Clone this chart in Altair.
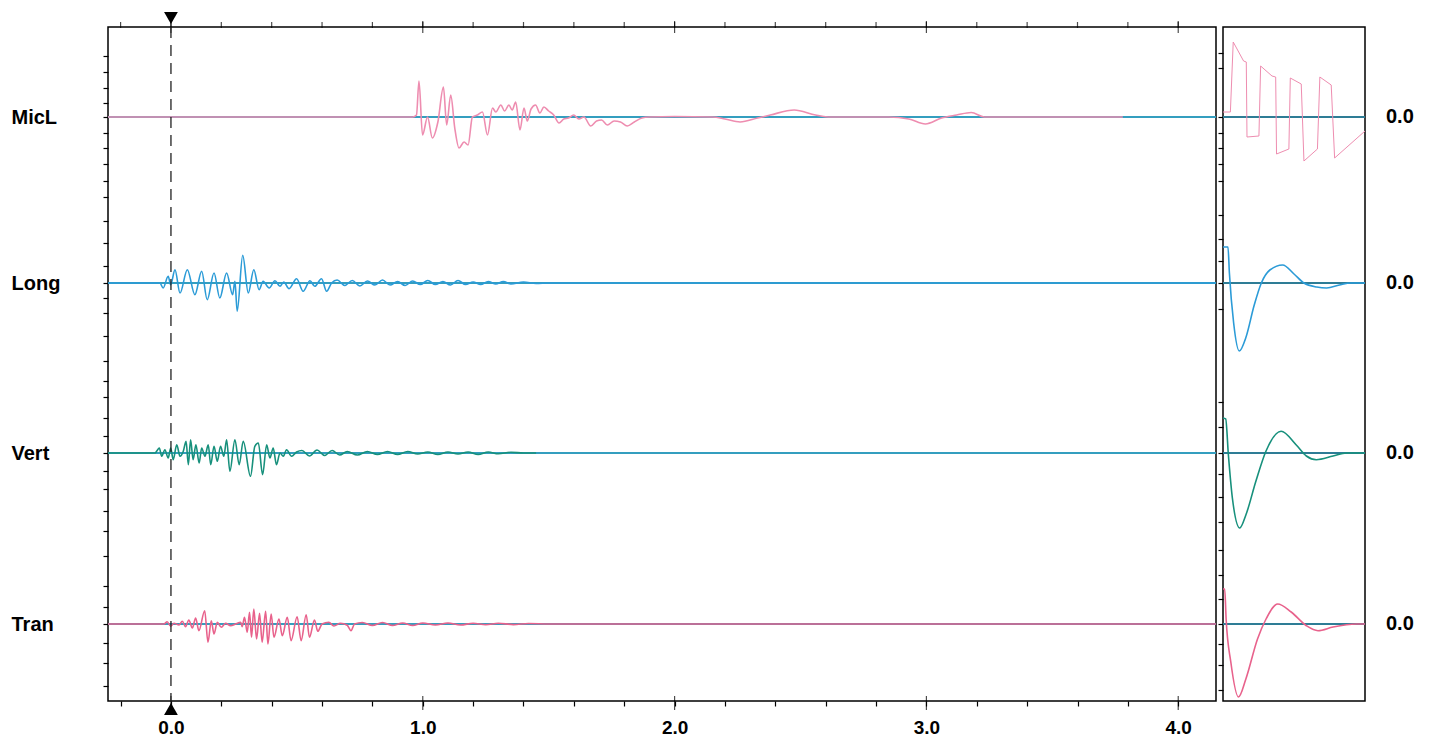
import altair as alt
import pandas as pd

# ---------------- data read from the record ----------------
channels = ["MicL", "Long", "Vert", "Tran"]
baselines = [584, 418, 248, 77]          # zero level of every trace (y units)
colors = ["#ee8db0", "#2b9bd7", "#17907c", "#e8628c"]

# main record: (time s, amplitude)
micl = [(-0.25, 0), (0.30, 0), (0.96, 0), (0.975, 2), (0.985, 36), (0.999, -18), (1.019, 0),
        (1.038, -21), (1.06, -5), (1.082, 30), (1.095, -8), (1.111, 22), (1.127, -11),
        (1.144, -31), (1.164, -25), (1.180, -28), (1.197, 0), (1.217, 2), (1.237, 5),
        (1.257, -18), (1.277, 9), (1.29, 5), (1.310, 12), (1.325, 6), (1.342, 12), (1.355, 7),
        (1.369, 15), (1.386, -13), (1.402, 9), (1.415, -4), (1.43, 8), (1.448, 12), (1.465, 4),
        (1.481, 10), (1.50, 6), (1.52, 2), (1.541, -6), (1.56, -2), (1.579, -1), (1.599, 2),
        (1.62, -2), (1.64, 0), (1.667, -9), (1.69, -4), (1.71, -3), (1.733, -8), (1.76, -4),
        (1.785, -5), (1.812, -9), (1.84, -5), (1.87, -1), (1.90, 0), (2.00, 0.5), (2.15, 0),
        (2.20, -2), (2.26, -5), (2.33, -1), (2.38, 2), (2.475, 7), (2.56, 2), (2.62, 0),
        (2.85, 0), (2.93, -2), (2.996, -7), (3.06, -1), (3.12, 2), (3.178, 4.5), (3.23, 0),
        (3.78, 0)]

long_ = [(-0.25, 0), (-0.044, 0), (-0.031, -5), (-0.011, 6.7), (-0.001, -1.7), (0.016, 13.3),
         (0.036, -10), (0.065, 13.3), (0.095, -11.7), (0.122, 11.7), (0.144, -16.7), (0.171, 10),
         (0.194, -15), (0.221, 10), (0.245, -11.7), (0.254, 1.7), (0.263, -28.3), (0.285, 27.7),
         (0.307, -10), (0.329, 13.3), (0.350, -6.7), (0.366, 1.7), (0.390, -5), (0.413, 2.3),
         (0.433, -3.3), (0.448, 1), (0.469, -5.7), (0.499, 4.3), (0.525, -8.3), (0.552, 2.3),
         (0.571, -3.3), (0.598, 4.3), (0.618, -8.3), (0.638, 0), (0.66, 3), (0.69, -2.5),
         (0.72, 2.5), (0.75, -3), (0.78, 2), (0.81, -2), (0.84, 3), (0.87, -2), (0.90, 1.5),
         (0.93, -2.5), (0.96, 2), (0.99, -1.5), (1.02, 2.5), (1.05, -1.5), (1.08, 1.5),
         (1.11, -2), (1.14, 2.5), (1.17, -1.5), (1.20, 1), (1.23, -1.5), (1.26, 1.5), (1.29, -1),
         (1.32, 1.5), (1.35, -1), (1.40, 1), (1.45, -0.5), (1.50, 0), (4.15, 0)]

vert = [(-0.25, 0), (-0.063, 0), (-0.057, 1.7), (-0.046, 5), (-0.037, -3.3), (-0.024, 3.3),
        (-0.011, -5), (-0.001, 5), (0.009, -6.7), (0.023, 8.3), (0.036, -3.3), (0.049, 1.7),
        (0.060, 11.7), (0.069, -11.7), (0.078, 13.3), (0.088, -6.7), (0.099, 8.3), (0.112, -10),
        (0.122, 5), (0.135, -3.3), (0.148, 8.3), (0.158, -11.7), (0.171, 6.7), (0.184, -8.3),
        (0.197, 6.7), (0.210, -3.3), (0.221, 13.3), (0.234, -18.3), (0.254, 13.3),
        (0.271, -11.7), (0.287, 11.7), (0.316, -23.3), (0.333, 6.7), (0.347, 10),
        (0.364, -21.7), (0.380, 8.3), (0.393, -5), (0.406, 5), (0.419, -11.7), (0.433, 0),
        (0.446, -3.3), (0.459, 3.3), (0.479, -3.3), (0.499, 1), (0.52, 2.5), (0.55, -3),
        (0.58, 3), (0.61, -2.5), (0.64, 2.5), (0.67, -2), (0.70, 1.5), (0.74, -2), (0.78, 1.5),
        (0.82, -1.5), (0.86, 1.5), (0.90, -1.5), (0.94, 1.5), (0.98, -1), (1.02, 1),
        (1.06, -1.5), (1.10, 1), (1.14, -1), (1.18, 1), (1.22, -1.5), (1.26, 1), (1.30, -0.8),
        (1.35, 0.8), (1.40, 0), (1.45, 0)]

tran = [(-0.25, 0), (-0.048, 0), (-0.028, 0), (-0.015, 2.3), (-0.001, -2.3), (0.012, 0.7),
        (0.032, -1), (0.045, 2.7), (0.058, -2.7), (0.071, 4), (0.085, -4), (0.098, 6),
        (0.111, -6.7), (0.134, 13.3), (0.147, -18.3), (0.160, 3.3), (0.171, -10), (0.184, 1.7),
        (0.200, -3.3), (0.217, 0.7), (0.237, -1.7), (0.257, 0), (0.277, 1.7), (0.283, -2.7),
        (0.292, 6.7), (0.303, -8.3), (0.312, 11.7), (0.320, -13.3), (0.329, 15), (0.340, -15),
        (0.352, 10.7), (0.362, -18.3), (0.376, 12.7), (0.385, -20), (0.398, 10), (0.409, -13.3),
        (0.429, 5), (0.442, -11.7), (0.462, 6.7), (0.477, -16.7), (0.501, 7.3), (0.517, -16.7),
        (0.537, 9.3), (0.550, -13.3), (0.570, 4), (0.583, -7.3), (0.600, 0), (0.627, 1.7),
        (0.647, -2), (0.673, 0.7), (0.700, -1.3), (0.715, -6.7), (0.729, 0), (0.76, 1.5),
        (0.80, -1.5), (0.84, 1.5), (0.88, -1.5), (0.92, 1), (0.96, -1.5), (1.00, 1),
        (1.05, -1), (1.10, 1), (1.15, -1), (1.20, 0.8), (1.25, -0.8), (1.30, 0.8),
        (1.36, -0.6), (1.42, 0.5), (1.50, 0), (4.15, 0)]

# calibration panel: (relative position 0..1, amplitude)
cal_micl = [(0.0, 5), (0.052, 5), (0.072, 75), (0.145, 56), (0.164, 55), (0.169, -20),
            (0.253, -19), (0.265, 51), (0.345, 41), (0.371, 40), (0.377, -37), (0.464, -32),
            (0.474, 39), (0.551, 33), (0.570, -44), (0.665, -32), (0.682, 40), (0.762, 32),
            (0.786, -41), (1.0, -14)]
cal_long = [(0.0, 36), (0.035, 36), (0.045, 10), (0.075, -40), (0.115, -68), (0.16, -55),
            (0.22, -22), (0.27, 0), (0.33, 13), (0.42, 18), (0.50, 9), (0.57, 0), (0.66, -4),
            (0.73, -5), (0.82, -2), (0.90, 0), (1.0, 0)]
cal_vert = [(0.0, 35), (0.019, 34), (0.038, -2), (0.066, -45), (0.118, -75), (0.161, -62),
            (0.232, -28), (0.303, 2), (0.409, 21.7), (0.516, 8), (0.587, -3), (0.657, -6.7),
            (0.775, -3), (0.870, 0), (1.0, 0)]
cal_tran = [(0.0, 35), (0.012, 35), (0.022, 5), (0.055, -38), (0.109, -73), (0.161, -55),
            (0.243, -15), (0.303, 5), (0.385, 20), (0.480, 12), (0.587, -1.7), (0.669, -6.7),
            (0.775, -3), (0.941, 0), (1.0, 0)]

x_ticks = [-0.2, 0.0, 0.2, 0.4, 0.6, 0.8, 1.0, 1.2, 1.4, 1.6, 1.8, 2.0, 2.2, 2.4, 2.6, 2.8,
           3.0, 3.2, 3.4, 3.6, 3.8, 4.0]
x_major = [0.0, 1.0, 2.0, 3.0, 4.0]
y_ticks_main = [645, 629, 613, 598, 584, 568, 553, 537, 520, 504, 480, 458, 435, 418, 403,
                388, 365, 340, 320, 304, 283, 265, 248, 230, 212, 190, 170, 145, 115, 94,
                77, 58, 38, 15]
y_ticks_cal = [648, 633, 584, 568, 553, 537, 520, 486, 462, 440, 418, 392, 299, 274, 248,
               227, 204, 179, 151, 126, 102, 77, 57, 36, 11]
zero_label = "0.0"

# ---------------- tables ----------------
main_rows = []
for name, base, pts in zip(channels, baselines, [micl, long_, vert, tran]):
    for t, a in pts:
        main_rows.append({"channel": name, "t": t, "y": base + a})
main_df = pd.DataFrame(main_rows)

cal_rows = []
for name, base, pts in zip(channels, baselines, [cal_micl, cal_long, cal_vert, cal_tran]):
    for u, a in pts:
        cal_rows.append({"channel": name, "u": u, "y": base + a})
cal_df = pd.DataFrame(cal_rows)

base_df = pd.DataFrame({"channel": channels, "base": baselines, "lab": [zero_label] * 4})
tick_df = pd.DataFrame({"t": x_ticks})
major_df = pd.DataFrame({"t": x_major})
one_df = pd.DataFrame({"k": [0]})

# ---------------- styling ----------------
W, H, WR = 1108, 674, 142
FONT = "Liberation Sans"
CYAN = "#3ab5dc"

xscale = alt.Scale(domain=[-0.25, 4.15], nice=False, zero=False)
yscale = alt.Scale(domain=[0, H], nice=False, zero=False)
uscale = alt.Scale(domain=[0, 1], nice=False, zero=False)
color = alt.Color("channel:N", scale=alt.Scale(domain=channels, range=colors), legend=None)

name_expr = " : ".join(
    [f"datum.value == {b} ? '{n}'" for n, b in zip(channels, baselines)]) + " : ''"
major_test = "abs(datum.value - round(datum.value)) < 0.001"

# one axis definition per scale, shared by every layer that uses that scale
y_axis_main = alt.Axis(orient="left", values=y_ticks_main, labelExpr=name_expr, tickSize=5,
                       tickWidth=1.2, labelPadding=92, labelAlign="left", labelOverlap=False,
                       labelFontSize=20, domain=False, grid=False, title=None)
x_axis_main = alt.Axis(orient="bottom", values=x_ticks,
                       labelExpr=f"{major_test} ? format(datum.value, '.1f') : ''",
                       tickSize=5, tickWidth=1.2, labelPadding=12, labelOverlap=False,
                       labelFontSize=19, domain=False, grid=False, title=None)
y_axis_cal = alt.Axis(orient="left", values=y_ticks_cal, labels=False, tickSize=5,
                      tickWidth=1.2, domain=False, grid=False, title=None)

Y_MAIN = lambda f: alt.Y(f, scale=yscale, axis=y_axis_main)
X_MAIN = lambda f: alt.X(f, scale=xscale, axis=x_axis_main)
Y_CAL = lambda f: alt.Y(f, scale=yscale, axis=y_axis_cal)

zero_cyan = alt.Chart(base_df).mark_rule(color=CYAN, strokeWidth=1.8).encode(
    y=Y_MAIN("base:Q"))
zero_dark = alt.Chart(base_df).mark_rule(color="#1c3a48", strokeWidth=0.7, opacity=0.55).encode(
    y=Y_MAIN("base:Q"))

traces = alt.Chart(main_df).mark_line(interpolate="monotone", strokeWidth=1.6).encode(
    x=X_MAIN("t:Q"), y=Y_MAIN("y:Q"), color=color, detail="channel:N")

top_ticks = alt.Chart(tick_df).mark_tick(orient="vertical", color="black", size=6,
                                        thickness=1.2).encode(
    x=X_MAIN("t:Q"), y=alt.value(-2))
top_major = alt.Chart(major_df).mark_tick(orient="vertical", color="black", size=12,
                                         thickness=1.2).encode(
    x=X_MAIN("t:Q"), y=alt.value(0))
bot_major = alt.Chart(major_df).mark_tick(orient="vertical", color="black", size=14,
                                         thickness=1.2).encode(
    x=X_MAIN("t:Q"), y=alt.value(H + 2))

dash = alt.Chart(one_df).mark_rule(strokeDash=[11, 7], color="#222222", strokeWidth=1.3).encode(
    x=alt.X(datum=0, scale=xscale, axis=x_axis_main))
tri_top = alt.Chart(one_df).mark_point(shape="triangle-down", filled=True, color="black",
                                      size=190, opacity=1).encode(
    x=alt.X(datum=0, scale=xscale, axis=x_axis_main), y=alt.value(-9))
tri_bot = alt.Chart(one_df).mark_point(shape="triangle-up", filled=True, color="black",
                                      size=190, opacity=1).encode(
    x=alt.X(datum=0, scale=xscale, axis=x_axis_main), y=alt.value(H + 8))

main = alt.layer(zero_cyan, zero_dark, traces, top_ticks, top_major, bot_major, dash,
                 tri_top, tri_bot).properties(width=W, height=H)

# calibration panel
r_cyan = alt.Chart(base_df).mark_rule(color=CYAN, strokeWidth=1.8).encode(y=Y_CAL("base:Q"))
r_dark = alt.Chart(base_df).mark_rule(color="#1a1a1a", strokeWidth=0.9, opacity=0.8).encode(
    y=Y_CAL("base:Q"))
r_text = alt.Chart(base_df).mark_text(align="left", baseline="middle", font=FONT,
                                      fontSize=20, fontWeight="bold", color="black").encode(
    y=Y_CAL("base:Q"), x=alt.value(WR + 21), text="lab:N")
cal_sq = alt.Chart(cal_df[cal_df["channel"] == "MicL"]).mark_line(
    interpolate="linear", strokeWidth=1.0).encode(
    x=alt.X("u:Q", scale=uscale, axis=None), y=Y_CAL("y:Q"), color=color)
cal_sm = alt.Chart(cal_df[cal_df["channel"] != "MicL"]).mark_line(
    interpolate="monotone", strokeWidth=1.6).encode(
    x=alt.X("u:Q", scale=uscale, axis=None), y=Y_CAL("y:Q"), color=color,
    detail="channel:N")

right = alt.layer(r_cyan, r_dark, cal_sq, cal_sm, r_text).properties(width=WR, height=H)

chart = alt.hconcat(main, right, spacing=7, bounds="flush").properties(
    padding={"left": 2, "top": 3, "right": 2, "bottom": 0}
).configure_view(stroke="black", strokeWidth=1.5).configure_axis(
    labelFont=FONT, labelFontWeight="bold", labelColor="black", tickColor="black")

chart.save("out.html", embed_options={"renderer": "svg", "actions": False})
